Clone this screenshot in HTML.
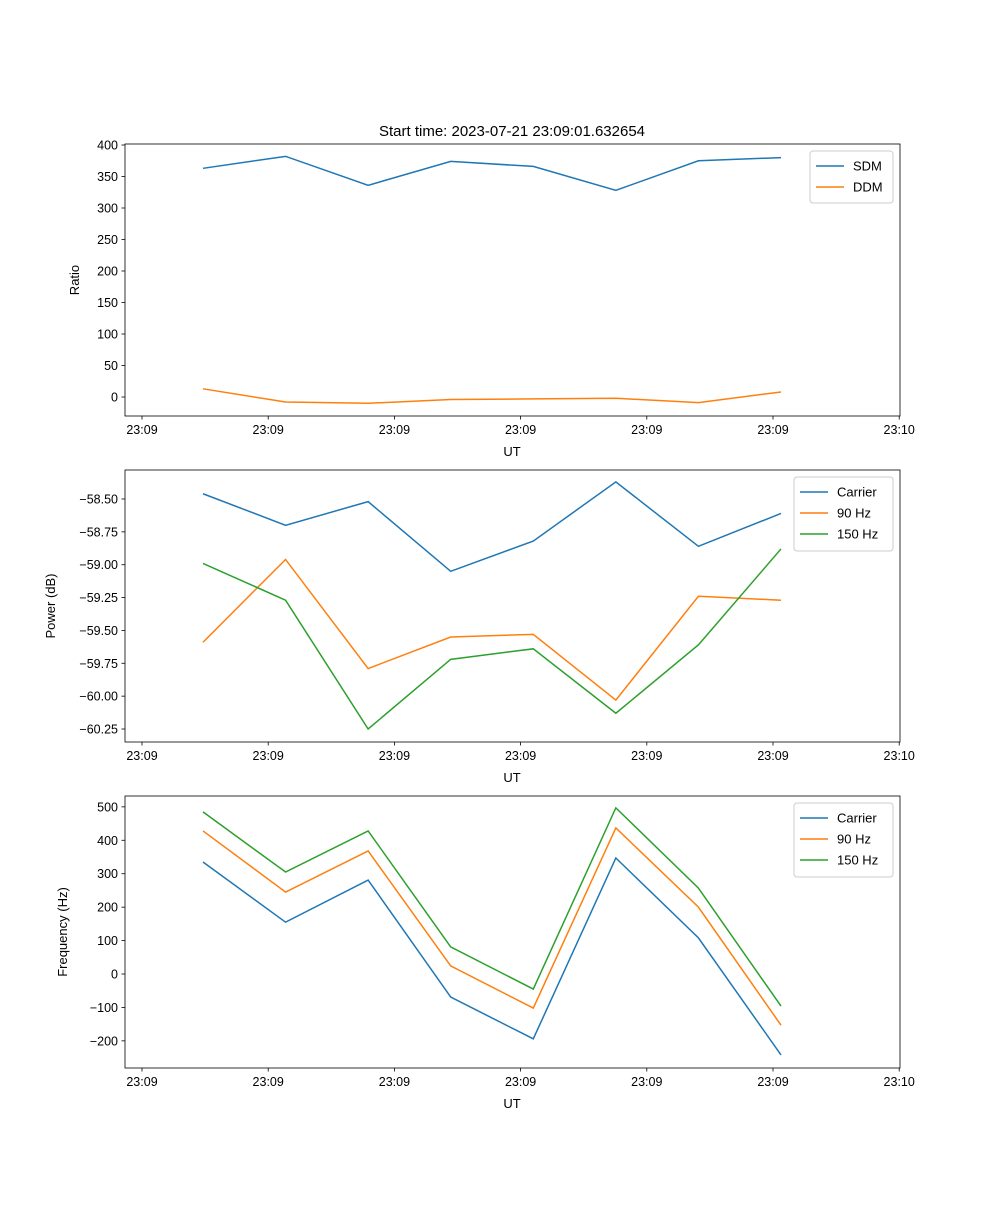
<!DOCTYPE html>
<html><head><meta charset="utf-8"><style>
body{margin:0;background:#fff}
svg{font-family:"Liberation Sans","DejaVu Sans",sans-serif}
</style></head><body>
<svg id="c" width="1000" height="1200" viewBox="0 0 1000 1200" xmlns="http://www.w3.org/2000/svg"></svg>
<script>
const xTickLabels=["23:09","23:09","23:09","23:09","23:09","23:09","23:10"];
const sdm=[363,382,336,374,366,328,375,380];
const ddm=[13,-8,-10,-4,-3,-2,-9,8];
const powCarrier=[-58.46,-58.70,-58.52,-59.05,-58.82,-58.37,-58.86,-58.61];
const pow90=[-59.59,-58.96,-59.79,-59.55,-59.53,-60.03,-59.24,-59.27];
const pow150=[-58.99,-59.27,-60.25,-59.72,-59.64,-60.13,-59.61,-58.88];
const freqCarrier=[335,155,281,-69,-194,347,108,-242];
const freq90=[428,245,368,24,-102,437,200,-153];
const freq150=[485,305,428,81,-45,497,257,-96];
const ratioTicks=[0,50,100,150,200,250,300,350,400];
const powTicks=[-60.25,-60.00,-59.75,-59.50,-59.25,-59.00,-58.75,-58.50];
const freqTicks=[-200,-100,0,100,200,300,400,500];

const NS="http://www.w3.org/2000/svg";
const svg=document.getElementById('c');
function el(tag,attrs,parent,text){const e=document.createElementNS(NS,tag);for(const k in attrs)e.setAttribute(k,attrs[k]);if(text!==undefined)e.textContent=text;(parent||svg).appendChild(e);return e;}
const C=['#1f77b4','#ff7f0e','#2ca02c'];
const L=125,R=900;
function xIdx(i){return 203+82.57*i;}
function xTick(j){return 142+126.2*j;}

function panel(name,top,bottom,yMap,ticks,fmt,ylabel,ylabelX,series,names,legend){
  const g=el('g',{},svg);
  
  
  series.forEach((s,k)=>{
    const p=el('polyline',{points:s.map((v,i)=>xIdx(i)+','+yMap(v)).join(' '),fill:'none',stroke:C[k],'stroke-width':1.5},g);
    
    
  });
  const fr=el('rect',{x:L,y:top,width:R-L,height:bottom-top,fill:'none',stroke:'#000','stroke-width':0.8},g);
  
  
  ticks.forEach(t=>{const y=yMap(t);
    el('line',{x1:L-3.5,x2:L,y1:y,y2:y,stroke:'#000','stroke-width':0.8},g);
    const tx=el('text',{x:L-7,y:y+4.5,'text-anchor':'end','font-size':12.5},g,fmt(t));
    
    
  });
  xTickLabels.forEach((lab,j)=>{const x=xTick(j);
    el('line',{x1:x,x2:x,y1:bottom,y2:bottom+3.5,stroke:'#000','stroke-width':0.8},g);
    const tx=el('text',{x:x,y:bottom+18,'text-anchor':'middle','font-size':12.5},g,lab);
    
    
  });
  const xl=el('text',{x:512,y:bottom+40,'text-anchor':'middle','font-size':13},g,'UT');
  
  
  const cy=(top+bottom)/2;
  const yl=el('text',{x:ylabelX,y:cy,'text-anchor':'middle','font-size':13,transform:`rotate(-90 ${ylabelX} ${cy})`},g,ylabel);
  
  
  const lg=el('g',{},g);
  
  
  el('rect',{x:legend.x,y:legend.y,width:legend.w,height:8+names.length*22,rx:3,fill:'#fff',stroke:'#ccc','stroke-width':1},lg);
  names.forEach((n,k)=>{const y=legend.y+15+k*21;
    const e=el('g',{},lg);
    
    
    el('line',{x1:legend.x+6,x2:legend.x+34,y1:y,y2:y,stroke:C[k],'stroke-width':1.5},e);
    el('text',{x:legend.x+43,y:y+4.5,'font-size':13},e,n);
  });
}
const t=el('text',{x:512,y:136,'text-anchor':'middle','font-size':15},svg,'Start time: 2023-07-21 23:09:01.632654');


panel('ratio-panel',144,416,v=>397-0.63*v,ratioTicks,v=>String(v),'Ratio',79,[sdm,ddm],['SDM','DDM'],{x:810,y:151,w:83});
panel('power-panel',470,742,v=>499+(-58.5-v)*131.43,powTicks,v=>'\u2212'+Math.abs(v).toFixed(2),'Power (dB)',55,[powCarrier,pow90,pow150],['Carrier','90 Hz','150 Hz'],{x:794,y:477,w:99});
panel('frequency-panel',796,1068,v=>974-0.3343*v,freqTicks,v=>v<0?'\u2212'+Math.abs(v):String(v),'Frequency (Hz)',67,[freqCarrier,freq90,freq150],['Carrier','90 Hz','150 Hz'],{x:794,y:803,w:99});
</script>
</body></html>
